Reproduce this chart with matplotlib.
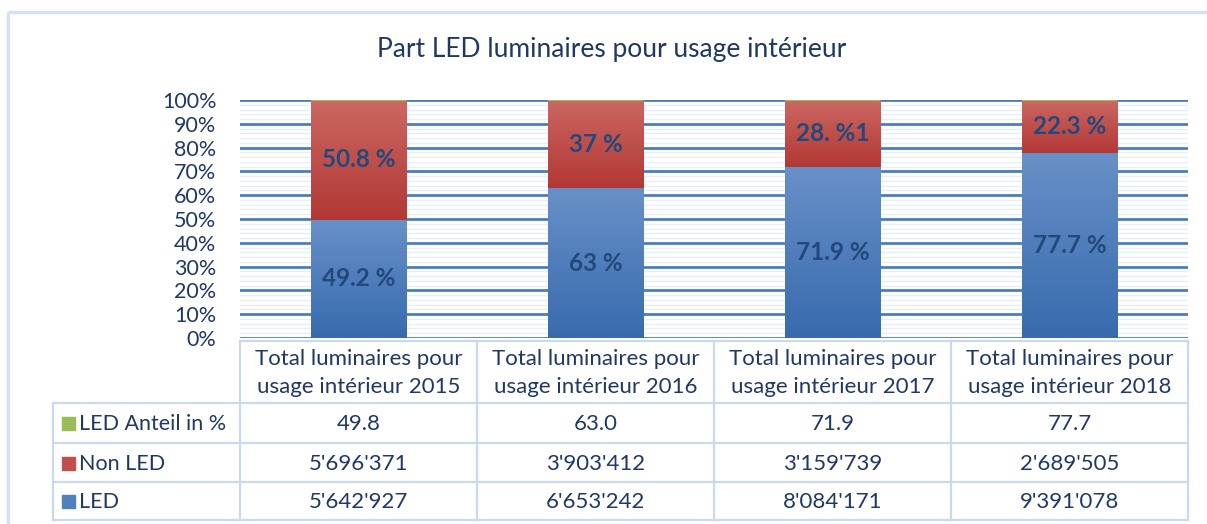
import matplotlib
matplotlib.use("Agg")
import matplotlib.pyplot as plt
import numpy as np
from matplotlib.ticker import MultipleLocator, PercentFormatter

# ---- data ----
categories = ["Total luminaires pour\nusage intérieur 2015",
              "Total luminaires pour\nusage intérieur 2016",
              "Total luminaires pour\nusage intérieur 2017",
              "Total luminaires pour\nusage intérieur 2018"]
led = [5642927, 6653242, 8084171, 9391078]
non_led = [5696371, 3903412, 3159739, 2689505]
led_share = [49.8, 63.0, 71.9, 77.7]
led_labels = ["49.2 %", "63 %", "71.9 %", "77.7 %"]
non_led_labels = ["50.8 %", "37 %", "28. %1", "22.3 %"]
series_names = ["LED Anteil in %", "Non LED", "LED"]

W, H = 1207, 524
plt.rcParams['font.family'] = ['Lato', 'DejaVu Sans']
fig = plt.figure(figsize=(W / 100, H / 100), dpi=100)
fig.patch.set_facecolor("white")

navy = "#1f3864"
label_col = "#22497c"
grid_major = "#4a7ebb"
grid_minor = "#e6eef8"
border = "#c9d9ee"

# overlay axes in pixel coordinates for borders/table
ov = fig.add_axes([0, 0, 1, 1])
ov.set_xlim(0, W)
ov.set_ylim(H, 0)
ov.axis("off")

# outer chart border
ov.plot([7.5, 7.5], [11.5, H], color="#d5e1f1", lw=2.5, solid_capstyle="butt")
ov.plot([7.5, W], [11.5, 11.5], color="#d5e1f1", lw=2.5, solid_capstyle="butt")

ov.text(612, 50, "Part LED luminaires pour usage intérieur", ha="center", va="center",
        fontsize=19, color=navy)

# plot axes
px_l, px_r, px_t, px_b = 240, 1188, 100, 338
ax = fig.add_axes([px_l / W, 1 - px_b / H, (px_r - px_l) / W, (px_b - px_t) / H])
ax.set_facecolor("none")

totals = np.array(led) + np.array(non_led) + np.array(led_share)
p_led = np.array(led) / totals
p_non = np.array(non_led) / totals
p_share = np.array(led_share) / totals
x = np.arange(len(categories))
bw = 0.405

b1 = ax.bar(x, p_led, bw, color="#4f81bd", zorder=3)
b2 = ax.bar(x, p_non, bw, bottom=p_led, color="#c0504d", zorder=3)
b3 = ax.bar(x, p_share, bw, bottom=p_led + p_non, color="#9bbb59",
            edgecolor="#9bbb59", lw=1.6, zorder=5)

def gradient(bars, top, bottom):
    top = np.array(matplotlib.colors.to_rgb(top))
    bottom = np.array(matplotlib.colors.to_rgb(bottom))
    t = np.linspace(0, 1, 64)[:, None]
    img = (top[None, :] * (1 - t) + bottom[None, :] * t)[:, None, :]
    for r in bars:
        x0, y0 = r.get_x(), r.get_y()
        w, h = r.get_width(), r.get_height()
        ax.imshow(img, extent=[x0, x0 + w, y0, y0 + h], origin="upper",
                  aspect="auto", zorder=4, interpolation="bilinear")

gradient(b1, "#6890c8", "#386bae")
gradient(b2, "#cc6762", "#b23835")

for i in range(len(x)):
    ax.text(x[i], p_led[i] / 2, led_labels[i], ha="center", va="center",
            fontsize=17.5, fontweight="bold", color=label_col, zorder=6)
    ax.text(x[i], p_led[i] + p_non[i] / 2, non_led_labels[i], ha="center", va="center",
            fontsize=17.5, fontweight="bold", color=label_col, zorder=6)

ax.set_xlim(-0.5, len(categories) - 0.5)
ax.set_ylim(0, 1)
ax.yaxis.set_major_locator(MultipleLocator(0.1))
ax.yaxis.set_minor_locator(MultipleLocator(0.02))
ax.yaxis.set_major_formatter(PercentFormatter(1.0, decimals=0))
ax.grid(axis="y", which="major", color=grid_major, lw=2.0, zorder=1)
ax.grid(axis="y", which="minor", color=grid_minor, lw=1.0, zorder=0)
ax.tick_params(axis="y", which="both", length=0, labelsize=15.5, labelcolor=navy, pad=17)
ax.tick_params(axis="x", length=0, labelbottom=False)
for s in ax.spines.values():
    s.set_visible(False)

# ---- data table ----
col_edges = [240, 477, 714, 951, 1188]
row_edges = [341, 403, 443, 482, 520]
left_edge = 53
lw_t = 1.6
# horizontal lines
ov.plot([col_edges[0], col_edges[-1]], [row_edges[0]] * 2, color=border, lw=lw_t)
for y in row_edges[1:]:
    ov.plot([left_edge, col_edges[-1]], [y, y], color=border, lw=lw_t)
# vertical lines
for xe in col_edges:
    ov.plot([xe, xe], [row_edges[0], row_edges[-1]], color=border, lw=lw_t)
ov.plot([left_edge, left_edge], [row_edges[1], row_edges[-1]], color=border, lw=lw_t)

fs_t = 16
for j, cat in enumerate(categories):
    cx = (col_edges[j] + col_edges[j + 1]) / 2
    ov.text(cx, (row_edges[0] + row_edges[1]) / 2 + 1, cat, ha="center", va="center",
            fontsize=fs_t, color=navy, linespacing=1.5)

row_values = [
    ["{:.1f}".format(v) for v in led_share],
    ["{:,}".format(v).replace(",", "'") for v in non_led],
    ["{:,}".format(v).replace(",", "'") for v in led],
]
row_colors = ["#9bbb59", "#c0504d", "#4f81bd"]
for r in range(3):
    cy = (row_edges[r + 1] + row_edges[r + 2]) / 2
    ov.add_patch(plt.Rectangle((62, cy - 6), 13, 13, color=row_colors[r]))
    ov.text(79, cy + 1, series_names[r], ha="left", va="center", fontsize=15.5, color=navy)
    for j in range(len(categories)):
        cx = (col_edges[j] + col_edges[j + 1]) / 2
        ov.text(cx, cy + 1, row_values[r][j], ha="center", va="center",
                fontsize=fs_t, color=navy)

fig.savefig("out.png", dpi=100)
